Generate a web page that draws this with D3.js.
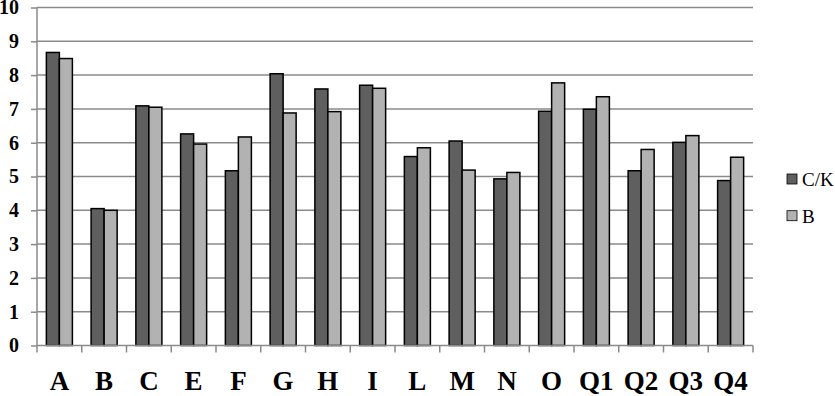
<!DOCTYPE html>
<style>
body {
  margin: 0;
  background: #fff;
}
svg text {
  font-family: 'Liberation Serif', 'Times New Roman', serif;
}
</style>
<svg width="835" height="396"></svg>
<script src="https://d3js.org/d3.v7.min.js"></script>
<script>
// categories and the two series
var categories = ["A", "B", "C", "E", "F", "G", "H", "I", "L", "M", "N", "O", "Q1", "Q2", "Q3", "Q4"];
var seriesNames = ["C/K", "B"];
var valuesCK = [8.67, 4.05, 7.09, 6.26, 5.17, 8.04, 7.59, 7.70, 5.59, 6.05, 4.93, 6.93, 6.99, 5.17, 6.01, 4.88];
var valuesB  = [8.49, 4.00, 7.05, 5.96, 6.17, 6.88, 6.92, 7.61, 5.85, 5.19, 5.12, 7.77, 7.36, 5.80, 6.21, 5.57];
var yTicks = [0, 1, 2, 3, 4, 5, 6, 7, 8, 9, 10];

var svg = d3.select("svg"),
    plotLeft = 37, plotRight = 753, plotTop = 7.5, plotBottom = 345.5;

var data = categories.map(function(c, i) {
  return {cat: c, "C/K": valuesCK[i], "B": valuesB[i]};
});

var x0 = d3.scaleBand()
    .domain(categories)
    .range([plotLeft, plotRight])
    .padding(0);

var x1 = d3.scaleBand()
    .domain(seriesNames)
    .range([0, x0.bandwidth()])
    .paddingInner(0)
    .paddingOuter(0.72);

var y = d3.scaleLinear()
    .domain([0, 10])
    .range([plotBottom, plotTop]);

var color = d3.scaleOrdinal()
    .domain(seriesNames)
    .range(["#5f5f5f", "#b2b2b2"]);

// gridlines
svg.append("g")
  .selectAll("line")
  .data(yTicks.filter(function(d) { return d > 0; }))
  .enter().append("line")
    .attr("x1", plotLeft)
    .attr("x2", plotRight)
    .attr("y1", function(d) { return y(d); })
    .attr("y2", function(d) { return y(d); })
    .attr("stroke", "#8a8a8a")
    .attr("stroke-width", 1.5);

// y axis
var yAxis = svg.append("g")
    .attr("transform", "translate(" + plotLeft + ",0)")
    .call(d3.axisLeft(y).tickValues(yTicks).tickSize(6).tickPadding(12));
yAxis.attr("font-family", null);
yAxis.selectAll("line, path").attr("stroke", "#8a8a8a").attr("stroke-width", 1.5);
yAxis.select(".domain").attr("d", "M0," + plotBottom + "V" + plotTop);
yAxis.selectAll("text")
    .attr("fill", "#000")
    .style("font-family", "'Liberation Serif', 'Times New Roman', serif")
    .style("font-size", "20px")
    .style("font-weight", "bold");

// bars
svg.append("g")
  .selectAll("g")
  .data(data)
  .enter().append("g")
    .attr("transform", function(d) { return "translate(" + x0(d.cat) + ",0)"; })
  .selectAll("rect")
  .data(function(d) { return seriesNames.map(function(k) { return {key: k, value: d[k]}; }); })
  .enter().append("rect")
    .attr("x", function(d) { return x1(d.key); })
    .attr("y", function(d) { return y(d.value); })
    .attr("width", x1.bandwidth())
    .attr("height", function(d) { return y(0) - y(d.value); })
    .attr("fill", function(d) { return color(d.key); })
    .attr("stroke", "#000")
    .attr("stroke-width", 1.5);

// x axis line and boundary ticks
var xAxis = svg.append("g");
xAxis.append("line")
    .attr("x1", plotLeft).attr("x2", plotRight)
    .attr("y1", plotBottom).attr("y2", plotBottom)
    .attr("stroke", "#8a8a8a")
    .attr("stroke-width", 1.5);
xAxis.selectAll(".tk")
  .data(categories.map(function(c) { return x0(c); }).concat([plotRight]))
  .enter().append("line")
    .attr("class", "tk")
    .attr("x1", function(d) { return d; })
    .attr("x2", function(d) { return d; })
    .attr("y1", plotBottom)
    .attr("y2", plotBottom + 7)
    .attr("stroke", "#8a8a8a")
    .attr("stroke-width", 1.5);

// category labels
svg.append("g")
  .selectAll("text")
  .data(categories)
  .enter().append("text")
    .attr("x", function(d) { return x0(d) + x0.bandwidth() / 2; })
    .attr("y", 390)
    .attr("text-anchor", "middle")
    .style("font-size", "27px")
    .style("font-weight", "bold")
    .text(function(d) { return d; });

// legend
var legend = svg.append("g")
  .selectAll("g")
  .data(seriesNames)
  .enter().append("g")
    .attr("transform", function(d, i) { return "translate(787," + (174 + i * 36.7) + ")"; });

legend.append("rect")
    .attr("width", 10)
    .attr("height", 10)
    .attr("fill", color)
    .attr("stroke", "#000")
    .attr("stroke-width", 0.8);

legend.append("text")
    .attr("x", 15)
    .attr("y", 12)
    .style("font-size", "19px")
    .text(function(d) { return d; });
</script>
